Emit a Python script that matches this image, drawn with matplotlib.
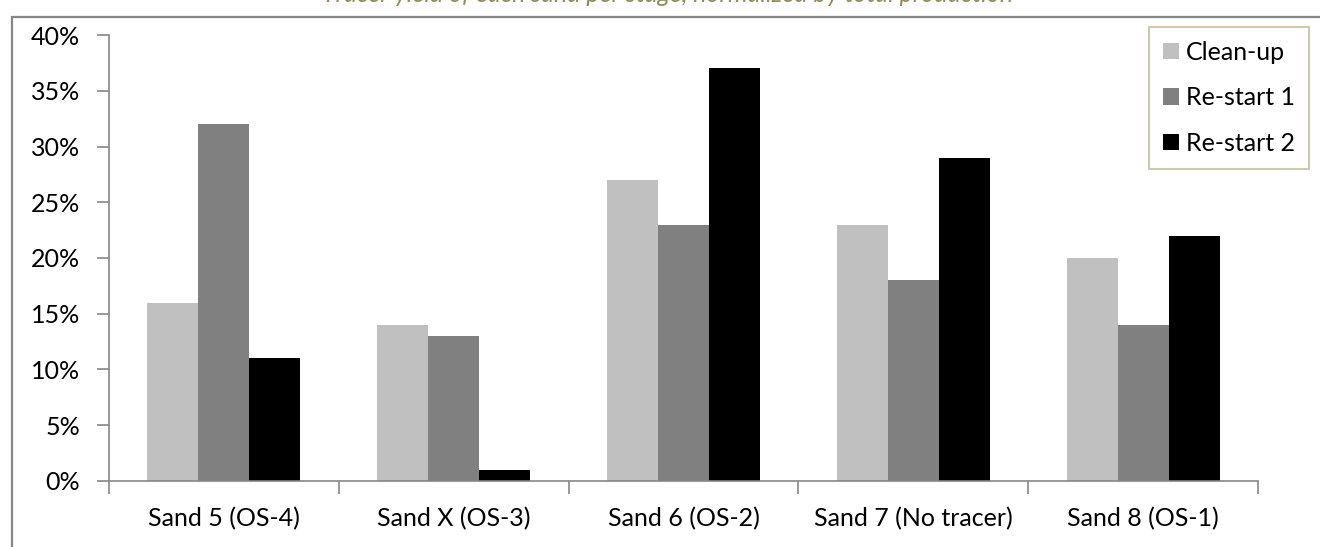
import matplotlib
matplotlib.use("Agg")
import matplotlib.pyplot as plt
from matplotlib.patches import Rectangle
from matplotlib.ticker import PercentFormatter, FixedLocator
import numpy as np

plt.rcParams['font.family'] = ['Lato', 'DejaVu Sans']

categories = ["Sand 5 (OS-4)", "Sand X (OS-3)", "Sand 6 (OS-2)", "Sand 7 (No tracer)", "Sand 8 (OS-1)"]
series_names = ["Clean-up", "Re-start 1", "Re-start 2"]
clean_up = [16, 14, 27, 23, 20]
restart_1 = [32, 13, 23, 18, 14]
restart_2 = [11, 1, 37, 29, 22]
series_colors = ["#C0C0C0", "#808080", "#000000"]
y_ticks = [0, 5, 10, 15, 20, 25, 30, 35, 40]
title_text = "Tracer yield of each sand per stage, normalized by total production"

fig = plt.figure(figsize=(13.2, 5.47), dpi=100)
ax = fig.add_axes([0.0826, 0.1207, 0.8705, 0.8153])

# outer chart frame
fig.patches.append(Rectangle((12 / 1320, -0.05), 1.2, 1 - 17 / 547 + 0.05,
                             transform=fig.transFigure, fill=False,
                             edgecolor="#868686", linewidth=1.6))

x = np.arange(len(categories))
bw = 0.222
for i, (vals, name, col) in enumerate(zip([clean_up, restart_1, restart_2], series_names, series_colors)):
    ax.bar(x + (i - 1) * bw, vals, width=bw, color=col, label=name, linewidth=0)

ax.set_xlim(-0.5, len(categories) - 0.5)
ax.set_ylim(0, 40)
ax.set_yticks(y_ticks)
ax.yaxis.set_major_formatter(PercentFormatter(decimals=0))
ax.set_xticks(x)
ax.set_xticklabels(categories)
ax.xaxis.set_minor_locator(FixedLocator(np.arange(-0.5, len(categories), 1.0)))
ax.tick_params(axis='x', which='major', length=0, pad=19, labelsize=18)
ax.tick_params(axis='x', which='minor', length=9, width=1.2, color="#868686", direction='out')
ax.tick_params(axis='y', length=9, width=1.2, color="#868686", direction='out', pad=12, labelsize=18)

for s in ["top", "right"]:
    ax.spines[s].set_visible(False)
for s in ["left", "bottom"]:
    ax.spines[s].set_color("#868686")
    ax.spines[s].set_linewidth(1.2)

leg = ax.legend(loc="upper right", bbox_to_anchor=(1309 / 1320, 1 - 27 / 547),
                bbox_transform=fig.transFigure, fontsize=18, frameon=True,
                fancybox=False, handlelength=0.65, handleheight=0.65,
                handletextpad=0.3, labelspacing=0.9, borderpad=0.55,
                borderaxespad=0)
leg.get_frame().set_edgecolor("#C4BD97")
leg.get_frame().set_linewidth(1.5)

fig.text(668 / 1320, 1 - 1.5 / 547, title_text, ha="center", va="baseline",
         fontsize=18, style="italic", color="#948A54")

fig.savefig("out.png", dpi=100)
